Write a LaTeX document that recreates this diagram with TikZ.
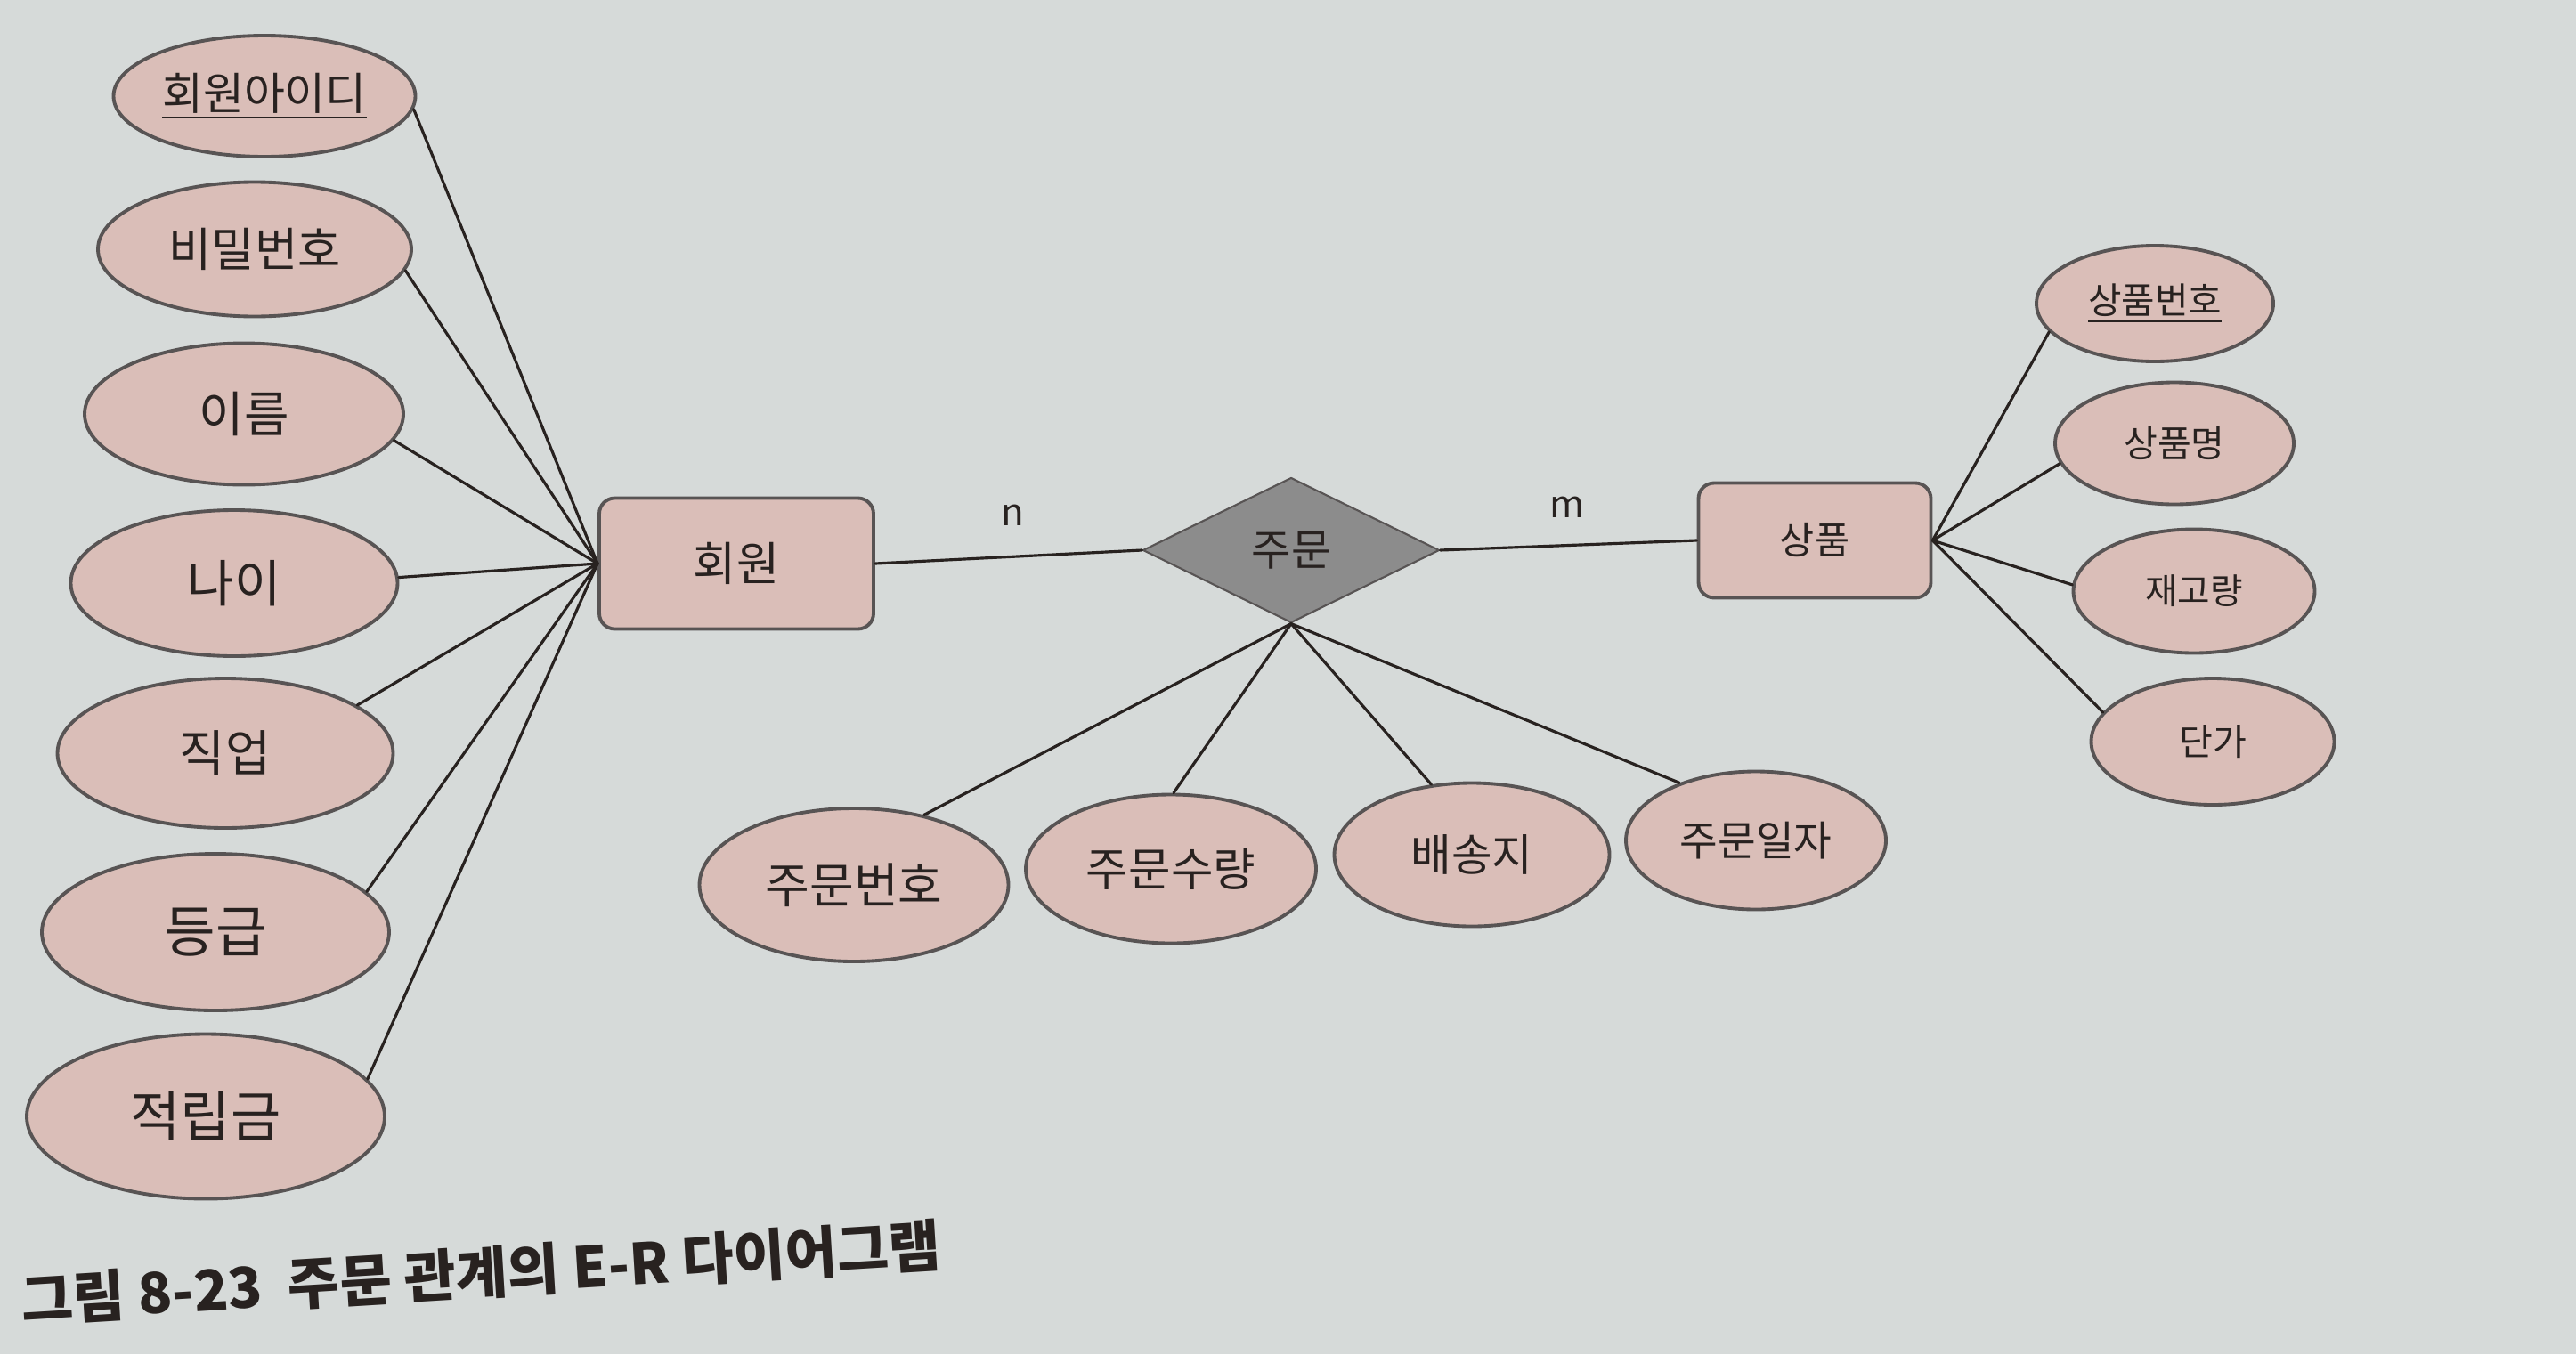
\documentclass[tikz,border=0pt]{standalone}
\usepackage{fontspec}
\setmainfont{Noto Sans CJK KR}
\usetikzlibrary{shapes.geometric}
\definecolor{paper}{RGB}{214,218,217}
\definecolor{attrpink}{RGB}{218,190,184}
\definecolor{edgegray}{RGB}{88,84,84}
\definecolor{relgray}{RGB}{140,140,140}
\definecolor{inkdark}{RGB}{40,34,32}
\begin{document}
\begin{tikzpicture}[line join=round,line cap=round,
	attr/.style={ellipse,draw=edgegray,fill=attrpink,line width=1.1pt,inner sep=0pt,text=inkdark,font=\fontsize{#1}{#1}\selectfont},
	attr/.default=13.5,
	entity/.style={rectangle,rounded corners=5pt,draw=edgegray,fill=attrpink,line width=1.1pt,inner sep=0pt,text=inkdark,font=\fontsize{#1}{#1}\selectfont},
	entity/.default=13.5,
	relation/.style={diamond,draw=edgegray,fill=relgray,line width=0.6pt,inner sep=0pt,aspect=2,text=inkdark,font=\fontsize{13.8}{14}\selectfont},
	link/.style={draw=inkdark,line width=0.9pt},
	card/.style={text=inkdark,font=\fontsize{12}{12}\selectfont}]
	\fill[paper] (0,0) rectangle (28.93,-15.21);
	\useasboundingbox (0,0) rectangle (28.93,-15.21);
	% 회원 attributes
	\node[attr=14.2,minimum width=3.39cm,minimum height=1.36cm] (id) at (2.97,-1.08) {\underline{회원아이디}};
	\node[attr=14.9,minimum width=3.52cm,minimum height=1.51cm] (pw) at (2.86,-2.80) {비밀번호};
	\node[attr=15.6,minimum width=3.58cm,minimum height=1.59cm] (name) at (2.74,-4.65) {이름};
	\node[attr=16.2,minimum width=3.67cm,minimum height=1.64cm] (age) at (2.63,-6.55) {나이};
	\node[attr=15.8,minimum width=3.77cm,minimum height=1.68cm] (job) at (2.53,-8.46) {직업};
	\node[attr=17.8,minimum width=3.90cm,minimum height=1.76cm] (grade) at (2.42,-10.47) {등급};
	\node[attr=17.4,minimum width=4.02cm,minimum height=1.85cm] (point) at (2.31,-12.54) {적립금};
	% entities and relation
	\node[entity=14.9,minimum width=3.08cm,minimum height=1.47cm] (member) at (8.27,-6.33) {회원};
	\node[relation,minimum width=3.33cm,minimum height=1.63cm] (order) at (14.50,-6.18) {주문};
	\node[entity=12.1,minimum width=2.61cm,minimum height=1.29cm] (product) at (20.38,-6.07) {상품};
	% 상품 attributes
	\node[attr=11.6,minimum width=2.66cm,minimum height=1.30cm] (pno) at (24.20,-3.41) {\underline{상품번호}};
	\node[attr=11.7,minimum width=2.68cm,minimum height=1.37cm] (pname) at (24.42,-4.98) {상품명};
	\node[attr=11.3,minimum width=2.71cm,minimum height=1.39cm] (stock) at (24.64,-6.64) {재고량};
	\node[attr=11.7,minimum width=2.73cm,minimum height=1.42cm] (price) at (24.85,-8.33) {단가};
	% 주문 attributes
	\node[attr=15.4,minimum width=3.47cm,minimum height=1.72cm] (ono) at (9.59,-9.94) {주문번호};
	\node[attr=14.7,minimum width=3.26cm,minimum height=1.67cm] (oqty) at (13.15,-9.76) {주문수량};
	\node[attr=14.1,minimum width=3.09cm,minimum height=1.61cm] (addr) at (16.53,-9.60) {배송지};
	\node[attr=13.2,minimum width=2.92cm,minimum height=1.55cm] (odate) at (19.72,-9.44) {주문일자};
	% connectors
	\foreach \a/\ang in {id/-5,pw/-8,name/-10,age/2,job/20,grade/15,point/13}
		\draw[link] (\a.\ang) -- (member.west);
	\foreach \a/\ang in {pno/195,pname/190,stock/177,price/165}
		\draw[link] (\a.\ang) -- (product.east);
	\foreach \a/\ang in {ono/45,oqty/88,addr/120,odate/143}
		\draw[link] (\a.\ang) -- (order.south);
	\draw[link] (member.east) -- (order.west);
	\draw[link] (order.east) -- (product.west);
	\node[card] (n) at (11.37,-5.79) {n};
	\node[card] (m) at (17.60,-5.70) {m};
	% caption
	\node[anchor=west,rotate=3.5,text=inkdark,font=\bfseries\fontsize{18}{18}\selectfont] (caption) at (0.12,-14.62) {그림 8-23\ \ 주문 관계의 E-R 다이어그램};
\end{tikzpicture}
\end{document}
